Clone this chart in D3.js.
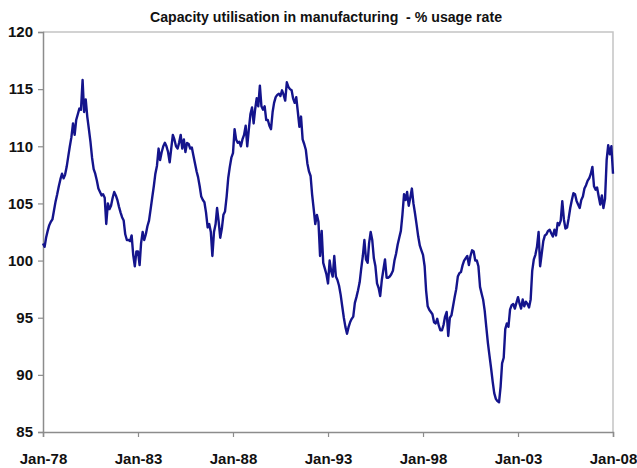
<!DOCTYPE html>
<html><head><meta charset="utf-8">
<script src="https://cdn.jsdelivr.net/npm/d3@7"></script>
<style>body{margin:0;background:#fff} svg{display:block}</style>
</head><body><svg id="chart" width="637" height="468"></svg>
<script>
const chartTitle = "Capacity utilisation in manufacturing  - % usage rate";
const firstMonth = "Jan-78";
const xTickLabels = ["Jan-78","Jan-83","Jan-88","Jan-93","Jan-98","Jan-03","Jan-08"];
const yTicks = [85, 90, 95, 100, 105, 110, 115, 120];
// monthly % usage rate, Jan-78 .. Jan-08
const usageRate = [
  101.5,101.2,102.0,102.6,103.1,103.4,103.6,104.4,105.2,105.8,106.5,107.1,
  107.6,107.2,107.5,108.2,109.1,110.0,110.8,112.0,111.0,112.3,112.8,113.3,
  113.2,115.8,113.0,114.1,112.6,111.5,110.4,109.0,108.0,107.6,107.0,106.3,
  106.0,105.7,105.8,105.5,103.2,105.0,104.5,104.8,105.5,106.0,105.7,105.3,
  104.7,104.2,103.8,103.5,102.3,101.8,101.8,101.7,102.2,100.5,99.5,100.8,
  100.8,99.6,101.5,102.5,101.8,102.3,103.0,103.5,104.5,105.5,106.5,107.6,
  108.3,109.8,108.8,109.5,110.0,110.3,110.0,109.5,108.6,109.8,111.0,110.6,
  110.0,109.8,110.3,111.0,109.8,110.6,109.5,110.3,110.2,109.8,109.9,109.2,
  108.5,107.8,107.3,106.5,105.6,105.3,105.1,104.2,102.9,103.2,102.5,100.4,
  102.5,103.2,104.6,103.4,102.0,102.8,104.0,104.3,105.6,107.2,108.2,109.0,
  109.4,111.5,110.6,110.3,110.4,110.0,110.6,111.0,111.8,110.0,111.5,112.8,
  113.4,112.0,113.2,114.2,113.5,115.3,113.5,113.2,113.5,112.3,112.3,111.8,
  111.5,113.0,113.8,114.3,114.5,114.6,114.4,114.9,114.5,114.0,115.6,115.2,
  115.0,114.9,114.2,113.8,114.3,113.0,111.7,112.6,110.6,110.2,109.7,108.5,
  107.8,107.4,105.8,104.5,103.2,104.0,103.4,100.4,102.6,99.8,99.3,98.8,
  98.0,100.0,99.1,98.6,100.4,98.6,98.3,97.8,97.0,96.0,95.0,94.2,
  93.6,94.2,94.6,94.9,95.1,96.3,96.8,97.4,98.1,99.3,100.4,101.8,
  100.1,99.8,101.5,102.5,101.8,100.2,99.5,98.0,97.6,96.9,98.3,99.2,
  100.1,98.5,98.5,98.6,98.8,99.1,100.0,100.6,101.4,102.0,102.6,104.0,
  105.8,105.3,106.0,104.8,105.5,106.3,105.0,104.1,103.1,102.1,101.3,100.9,
  100.5,99.5,97.4,96.0,95.7,95.5,95.3,94.6,94.5,94.9,94.3,93.9,
  93.9,94.4,95.1,95.5,93.4,95.0,95.2,96.0,96.8,97.5,98.6,98.9,
  99.0,99.6,100.0,100.2,100.4,99.6,100.4,100.9,100.8,100.0,100.0,99.5,
  97.7,97.1,96.6,95.6,94.2,92.8,91.7,90.6,89.4,88.4,87.9,87.7,
  87.6,89.0,91.0,91.5,94.0,94.5,94.2,95.7,96.1,96.2,95.8,96.3,
  96.8,96.2,95.8,96.6,96.0,96.4,96.2,95.9,96.6,99.1,100.1,100.5,
  101.2,102.5,99.5,100.6,101.7,102.2,102.3,102.6,102.7,102.4,102.1,102.7,
  102.2,103.3,103.1,103.5,105.2,103.6,102.8,102.9,103.7,104.6,105.3,105.9,
  105.8,105.2,104.9,104.6,105.3,105.6,106.3,106.6,107.0,107.2,107.6,108.2,
  106.5,106.2,106.4,105.6,104.9,105.7,104.6,105.4,108.8,110.1,109.3,110.0,
  107.6
];

const parseM = d3.timeParse("%b-%y");
const fmtM = d3.timeFormat("%b-%y");
const start = parseM(firstMonth);
const data = usageRate.map((v, i) => ({ date: d3.timeMonth.offset(start, i), v }));
const xTickDates = xTickLabels.map(parseM);

const W = 637, H = 468;
const margin = { top: 32, right: 24, bottom: 36, left: 43 };
const svg = d3.select("#chart");
svg.append("rect").attr("width", W).attr("height", H).attr("fill", "#fff");

const x = d3.scaleTime()
  .domain([xTickDates[0], xTickDates[xTickDates.length - 1]])
  .range([margin.left, W - margin.right]);
const y = d3.scaleLinear()
  .domain([yTicks[0], yTicks[yTicks.length - 1]])
  .range([H - margin.bottom, margin.top]);

// plot area border (top and right)
svg.append("path")
  .attr("d", `M${x.range()[0]},${y(yTicks[yTicks.length-1])}H${x.range()[1]}V${y(yTicks[0])}`)
  .attr("fill", "none").attr("stroke", "#c4c4c4").attr("stroke-width", 1.5);

const fontFam = "Arial, 'Liberation Sans', sans-serif";

const yAxis = svg.append("g")
  .attr("transform", `translate(${margin.left},0)`)
  .call(d3.axisLeft(y).tickValues(yTicks).tickSize(5).tickPadding(5).tickFormat(d3.format("d")));
const xAxis = svg.append("g")
  .attr("transform", `translate(0,${H - margin.bottom})`)
  .call(d3.axisBottom(x).tickValues(xTickDates).tickSize(5).tickPadding(16).tickFormat(fmtM));

[yAxis, xAxis].forEach(g => {
  g.select(".domain").attr("stroke", "#8c8c8c").attr("stroke-width", 1.5);
  g.selectAll(".tick line").attr("stroke", "#8c8c8c").attr("stroke-width", 1.2);
  g.selectAll(".tick text")
    .attr("fill", "#111")
    .style("font-family", fontFam)
    .style("font-weight", "bold")
    .style("font-size", "15px");
});

// the line
svg.append("path")
  .datum(data)
  .attr("fill", "none")
  .attr("stroke", "#14148c")
  .attr("stroke-width", 2.4)
  .attr("stroke-linejoin", "round")
  .attr("d", d3.line().x(d => x(d.date)).y(d => y(d.v)));

// title
svg.append("text")
  .attr("x", 326).attr("y", 22)
  .attr("text-anchor", "middle")
  .attr("textLength", 352)
  .attr("lengthAdjust", "spacingAndGlyphs")
  .style("white-space", "pre")
  .style("font-family", fontFam)
  .style("font-weight", "bold")
  .style("font-size", "14px")
  .attr("fill", "#111")
  .text(chartTitle);
</script>
</body></html>
